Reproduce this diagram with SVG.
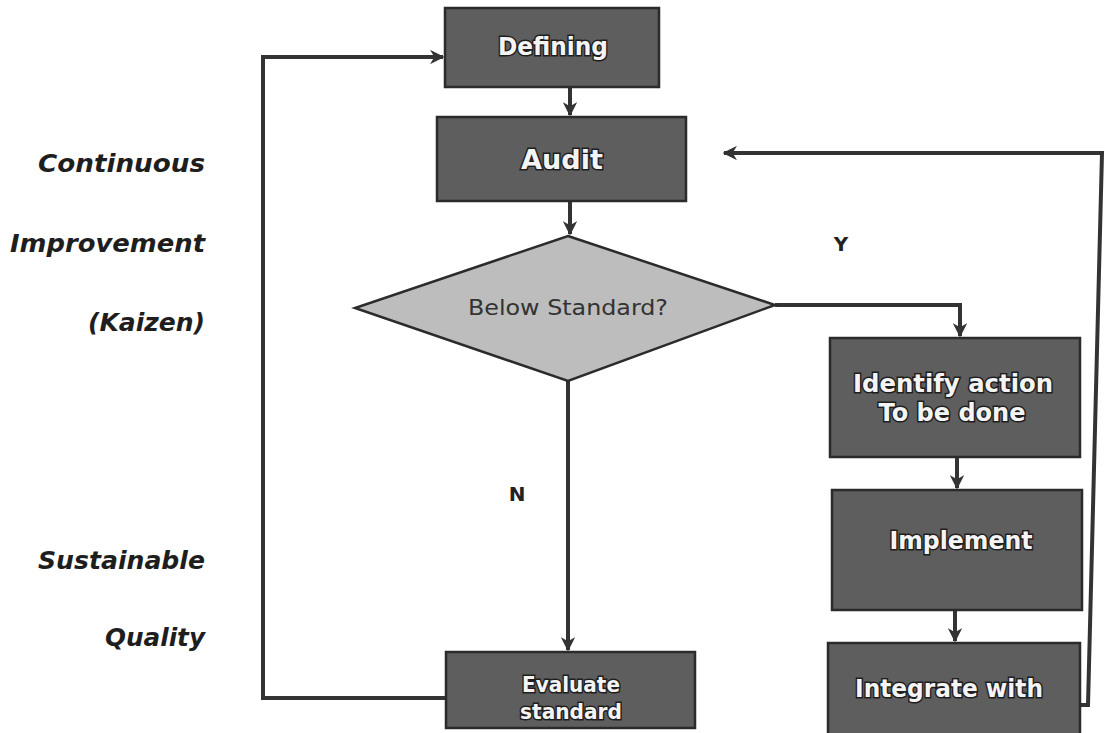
<svg xmlns="http://www.w3.org/2000/svg" width="1105" height="733" viewBox="0 0 1105 733">
<style>
.box{fill:#5e5e5e;stroke:#2b2b2b;stroke-width:2.5}
.dia{fill:#bdbdbd;stroke:#2b2b2b;stroke-width:2.5}
.nt{font-family:"DejaVu Sans",sans-serif;font-weight:bold;fill:#f4f4f4;stroke:#1e1e1e;stroke-width:3;paint-order:stroke;text-anchor:middle}
.dt{font-family:"DejaVu Sans",sans-serif;fill:#333;text-anchor:middle;font-size:21px}
.side{font-family:"DejaVu Sans",sans-serif;font-weight:bold;font-style:italic;fill:#1e1e1e;text-anchor:end;font-size:25px}
.lbl{font-family:"DejaVu Sans",sans-serif;font-weight:bold;fill:#222;font-size:20px;text-anchor:middle}
.con{fill:none;stroke:#333;stroke-width:4}
</style>
<defs>
<marker id="ah" viewBox="0 0 10 10" refX="9" refY="5" markerWidth="3.6" markerHeight="3.6" orient="auto" markerUnits="strokeWidth">
<path d="M0,0 L10,5 L0,10 L3,5 Z" fill="#333"/>
</marker>
</defs>
<rect width="1105" height="733" fill="#ffffff"/>
<g id="side-labels">
<text class="side" x="205" y="172" textLength="167" lengthAdjust="spacingAndGlyphs">Continuous</text>
<text class="side" x="205" y="252" textLength="195" lengthAdjust="spacingAndGlyphs">Improvement</text>
<text class="side" x="205" y="331" textLength="117" lengthAdjust="spacingAndGlyphs">(Kaizen)</text>
<text class="side" x="205" y="569" textLength="167" lengthAdjust="spacingAndGlyphs">Sustainable</text>
<text class="side" x="205" y="646" textLength="100" lengthAdjust="spacingAndGlyphs">Quality</text>
</g>
<g id="connectors">
<path class="con" d="M570,87 L570,115" marker-end="url(#ah)"/>
<path class="con" d="M570,201 L570,234" marker-end="url(#ah)"/>
<path class="con" d="M775,305 L960,305 L960,336" marker-end="url(#ah)"/>
<path class="con" d="M957,457 L957,488" marker-end="url(#ah)"/>
<path class="con" d="M955,610 L955,641" marker-end="url(#ah)"/>
<path class="con" d="M568,381 L568,650" marker-end="url(#ah)"/>
<path class="con" d="M446,698 L263,698 L263,57 L443,57" marker-end="url(#ah)"/>
<path class="con" d="M1080,705 L1088,705 L1102,153 L724,153" marker-end="url(#ah)"/>
<text class="lbl" x="841" y="251">Y</text>
<text class="lbl" x="517" y="501">N</text>
</g>
<g id="defining">
<rect class="box" x="445" y="8" width="214" height="79"/>
<text class="nt" x="553" y="55" font-size="24" textLength="110" lengthAdjust="spacingAndGlyphs">Defining</text>
</g>
<g id="audit">
<rect class="box" x="437" y="117" width="249" height="84"/>
<text class="nt" x="562" y="169" font-size="27" textLength="82" lengthAdjust="spacingAndGlyphs">Audit</text>
</g>
<g id="below-standard">
<polygon class="dia" points="568,236 775,305 568,381 355,308"/>
<text class="dt" x="568" y="315" textLength="200" lengthAdjust="spacingAndGlyphs">Below Standard?</text>
</g>
<g id="identify">
<rect class="box" x="830" y="338" width="250" height="119"/>
<text class="nt" x="953" y="392" font-size="24" textLength="200" lengthAdjust="spacingAndGlyphs">Identify action</text>
<text class="nt" x="952" y="421" font-size="24" textLength="147" lengthAdjust="spacingAndGlyphs">To be done</text>
</g>
<g id="implement">
<rect class="box" x="832" y="490" width="250" height="120"/>
<text class="nt" x="961" y="549" font-size="24" textLength="143" lengthAdjust="spacingAndGlyphs">Implement</text>
</g>
<g id="integrate">
<rect class="box" x="828" y="643" width="252" height="95"/>
<text class="nt" x="949" y="697" font-size="24" textLength="188" lengthAdjust="spacingAndGlyphs">Integrate with</text>
</g>
<g id="evaluate">
<rect class="box" x="446" y="652" width="249" height="76"/>
<text class="nt" x="571" y="692" font-size="21" textLength="98" lengthAdjust="spacingAndGlyphs">Evaluate</text>
<text class="nt" x="571" y="719" font-size="21" textLength="102" lengthAdjust="spacingAndGlyphs">standard</text>
</g>
</svg>
